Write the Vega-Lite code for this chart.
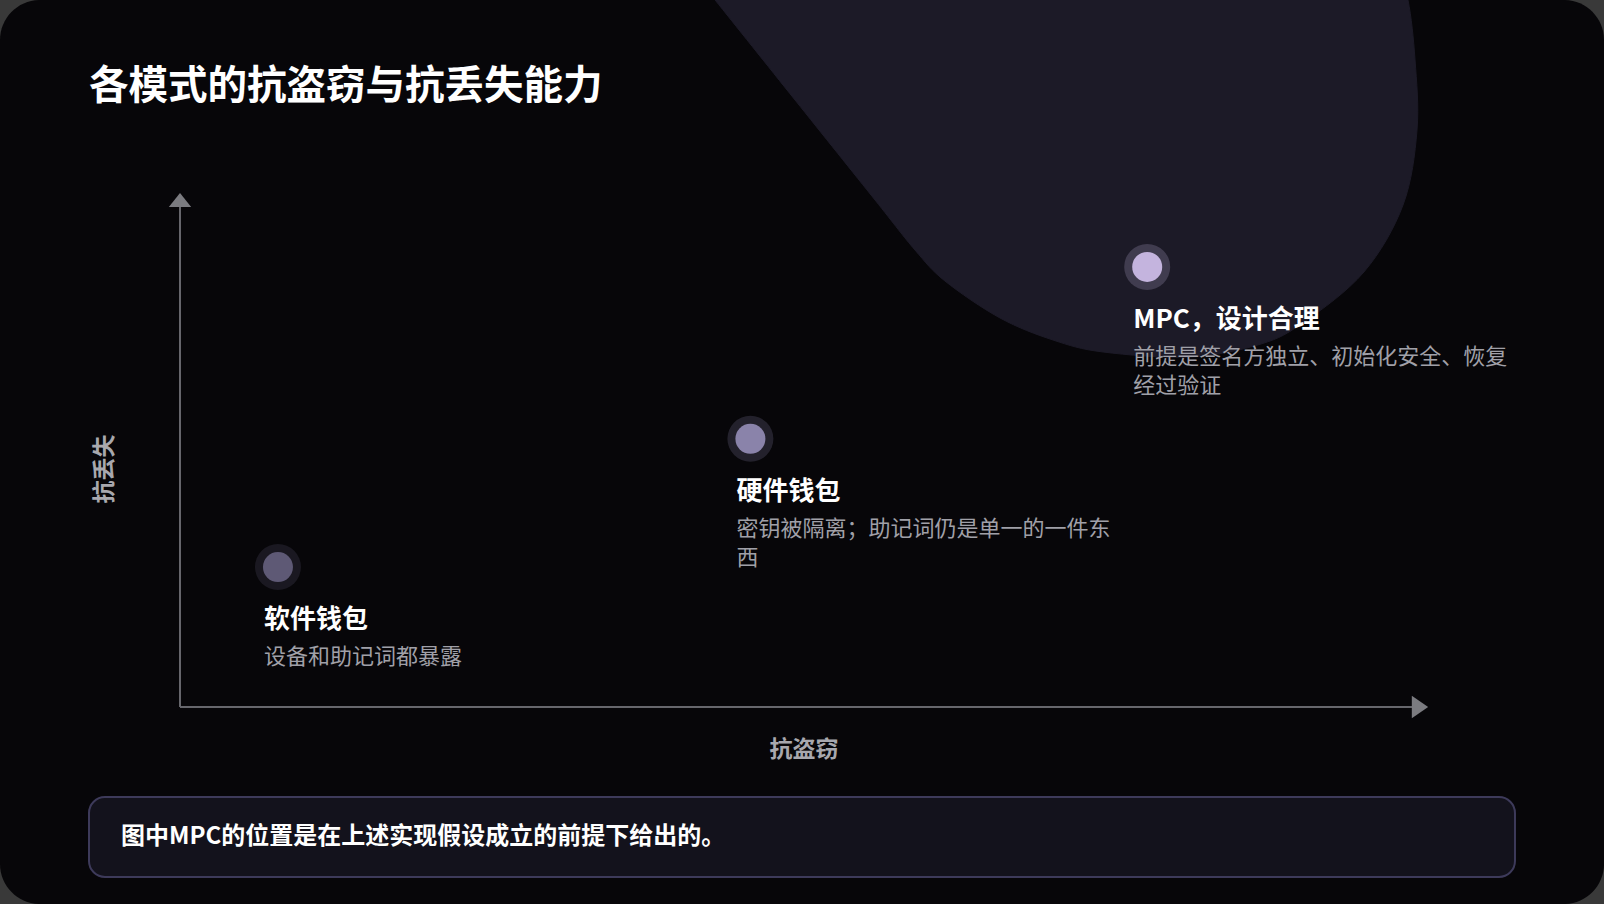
{
  "$schema": "https://vega.github.io/schema/vega-lite/v6.json",
  "width": 1240,
  "height": 507,
  "autosize": {"type": "none"},
  "padding": {"left": 180, "top": 200, "right": 184, "bottom": 197},
  "background": "#393939",
  "config": {
    "view": {"stroke": null},
    "font": "Noto Sans CJK SC",
    "text": {"font": "Noto Sans CJK SC"}
  },
  "datasets": {
    "modes": [
      {"模式": "软件钱包", "说明": "设备和助记词都暴露", "抗盗窃": 7.9, "抗丢失": 27.6},
      {"模式": "硬件钱包", "说明": "密钥被隔离；助记词仍是单一的一件东\n西", "抗盗窃": 46.0, "抗丢失": 52.9},
      {"模式": "MPC，设计合理", "说明": "前提是签名方独立、初始化安全、恢复\n经过验证", "抗盗窃": 78.0, "抗丢失": 86.8}
    ],
    "blob": [
      {"序": 1, "x": 40.56, "y": 147.34},
      {"序": 2, "x": 43.15, "y": 139.45},
      {"序": 3, "x": 49.6, "y": 119.72},
      {"序": 4, "x": 56.05, "y": 100.0},
      {"序": 5, "x": 59.27, "y": 90.14},
      {"序": 6, "x": 61.69, "y": 84.02},
      {"序": 7, "x": 66.13, "y": 76.73},
      {"序": 8, "x": 70.4, "y": 72.39},
      {"序": 9, "x": 74.44, "y": 70.02},
      {"序": 10, "x": 81.45, "y": 69.03},
      {"序": 11, "x": 87.18, "y": 71.6},
      {"序": 12, "x": 90.65, "y": 75.94},
      {"序": 13, "x": 95.48, "y": 85.8},
      {"序": 14, "x": 98.63, "y": 99.01},
      {"序": 15, "x": 99.76, "y": 113.81},
      {"序": 16, "x": 99.6, "y": 127.61},
      {"序": 17, "x": 99.03, "y": 139.45},
      {"序": 18, "x": 97.98, "y": 147.34}
    ],
    "arrows": [
      {"轴": "x", "x": 100, "y": 0},
      {"轴": "y", "x": 0, "y": 100}
    ],
    "axisTitles": [
      {"轴": "x", "标题": "抗盗窃", "x": 50.32, "y": -8.48},
      {"轴": "y", "标题": "抗丢失", "x": -6.05, "y": 46.94}
    ]
  },
  "layer": [
    {
      "data": {"values": [{}]},
      "mark": {"type": "rect", "cornerRadius": 40, "color": "#070609"},
      "encoding": {
        "x": {"datum": -14.516, "type": "quantitative", "scale": {"domain": [0, 100]}, "axis": null},
        "x2": {"datum": 114.839},
        "y": {"datum": 139.45, "type": "quantitative", "scale": {"domain": [0, 100]}, "axis": null},
        "y2": {"datum": -38.86}
      }
    },
    {
      "data": {"name": "blob"},
      "mark": {"type": "line", "interpolate": "cardinal-closed", "fill": "#1c1a27", "stroke": "#1c1a27", "strokeWidth": 1},
      "encoding": {
        "x": {"field": "x", "type": "quantitative", "scale": {"domain": [0, 100]}, "axis": null},
        "y": {"field": "y", "type": "quantitative", "scale": {"domain": [0, 100]}, "axis": null},
        "order": {"field": "序", "type": "quantitative"}
      }
    },
    {
      "data": {"values": [{}]},
      "mark": {"type": "rect", "cornerRadius": 16, "color": "#13121c", "stroke": "#3d3a5a", "strokeWidth": 2},
      "encoding": {
        "x": {"datum": -7.339, "type": "quantitative", "scale": {"domain": [0, 100]}, "axis": null},
        "x2": {"datum": 107.66},
        "y": {"datum": -17.75, "type": "quantitative", "scale": {"domain": [0, 100]}, "axis": null},
        "y2": {"datum": -33.53}
      }
    },
    {
      "data": {"values": [{"备注": "图中MPC的位置是在上述实现假设成立的前提下给出的。"}]},
      "mark": {"type": "text", "align": "left", "baseline": "middle", "fontSize": 24, "fontWeight": "bold", "color": "#ffffff"},
      "encoding": {
        "x": {"datum": -4.758, "type": "quantitative", "scale": {"domain": [0, 100]}, "axis": null},
        "y": {"datum": -25.64, "type": "quantitative", "scale": {"domain": [0, 100]}, "axis": null},
        "text": {"field": "备注"}
      }
    },
    {
      "data": {"values": [{"标题": "各模式的抗盗窃与抗丢失能力"}]},
      "mark": {"type": "text", "align": "left", "baseline": "middle", "fontSize": 39.5, "fontWeight": "bold", "color": "#ffffff"},
      "encoding": {
        "x": {"datum": -7.339, "type": "quantitative", "scale": {"domain": [0, 100]}, "axis": null},
        "y": {"datum": 122.3, "type": "quantitative", "scale": {"domain": [0, 100]}, "axis": null},
        "text": {"field": "标题"}
      }
    },
    {
      "data": {"values": [{}]},
      "mark": {"type": "rule", "color": "#66666c", "strokeWidth": 2},
      "encoding": {
        "x": {"datum": 0, "type": "quantitative", "scale": {"domain": [0, 100]}, "axis": null},
        "x2": {"datum": 100},
        "y": {"datum": 0, "type": "quantitative", "scale": {"domain": [0, 100]}, "axis": null}
      }
    },
    {
      "data": {"values": [{}]},
      "mark": {"type": "rule", "color": "#66666c", "strokeWidth": 2},
      "encoding": {
        "x": {"datum": 0, "type": "quantitative", "scale": {"domain": [0, 100]}, "axis": null},
        "y": {"datum": 0, "type": "quantitative", "scale": {"domain": [0, 100]}, "axis": null},
        "y2": {"datum": 100}
      }
    },
    {
      "data": {"name": "arrows"},
      "mark": {"type": "point", "filled": true, "size": 500, "opacity": 1, "color": "#7b7b80"},
      "encoding": {
        "x": {"field": "x", "type": "quantitative", "scale": {"domain": [0, 100]}, "axis": null},
        "y": {"field": "y", "type": "quantitative", "scale": {"domain": [0, 100]}, "axis": null},
        "shape": {
          "field": "轴",
          "type": "nominal",
          "scale": {"domain": ["x", "y"], "range": ["M0.73,0L-0.73,1L-0.73,-1Z", "M0,-0.62L1,0.62L-1,0.62Z"]},
          "legend": null
        }
      }
    },
    {
      "data": {"name": "axisTitles"},
      "transform": [{"filter": "datum['轴'] === 'x'"}],
      "mark": {"type": "text", "align": "center", "baseline": "middle", "fontSize": 23, "fontWeight": "bold", "color": "#a8a8ae"},
      "encoding": {
        "x": {"field": "x", "type": "quantitative", "scale": {"domain": [0, 100]}, "axis": null},
        "y": {"field": "y", "type": "quantitative", "scale": {"domain": [0, 100]}, "axis": null},
        "text": {"field": "标题"}
      }
    },
    {
      "data": {"name": "axisTitles"},
      "transform": [{"filter": "datum['轴'] === 'y'"}],
      "mark": {"type": "text", "align": "center", "baseline": "middle", "angle": 270, "fontSize": 23, "fontWeight": "bold", "color": "#a8a8ae"},
      "encoding": {
        "x": {"field": "x", "type": "quantitative", "scale": {"domain": [0, 100]}, "axis": null},
        "y": {"field": "y", "type": "quantitative", "scale": {"domain": [0, 100]}, "axis": null},
        "text": {"field": "标题"}
      }
    },
    {
      "data": {"name": "modes"},
      "mark": {"type": "point", "filled": true, "shape": "circle", "size": 2116, "opacity": 0.22},
      "encoding": {
        "x": {"field": "抗盗窃", "type": "quantitative", "scale": {"domain": [0, 100]}, "axis": null},
        "y": {"field": "抗丢失", "type": "quantitative", "scale": {"domain": [0, 100]}, "axis": null},
        "color": {
          "field": "模式",
          "type": "nominal",
          "scale": {"domain": ["软件钱包", "硬件钱包", "MPC，设计合理"], "range": ["#5e5975", "#8a83aa", "#c4b4de"]},
          "legend": null
        }
      }
    },
    {
      "data": {"name": "modes"},
      "mark": {"type": "point", "filled": true, "shape": "circle", "size": 900, "opacity": 1},
      "encoding": {
        "x": {"field": "抗盗窃", "type": "quantitative", "scale": {"domain": [0, 100]}, "axis": null},
        "y": {"field": "抗丢失", "type": "quantitative", "scale": {"domain": [0, 100]}, "axis": null},
        "color": {
          "field": "模式",
          "type": "nominal",
          "scale": {"domain": ["软件钱包", "硬件钱包", "MPC，设计合理"], "range": ["#5e5975", "#8a83aa", "#c4b4de"]},
          "legend": null
        }
      }
    },
    {
      "data": {"name": "modes"},
      "mark": {"type": "text", "align": "left", "baseline": "middle", "dx": -14, "dy": 53, "fontSize": 26, "fontWeight": "bold", "color": "#ffffff"},
      "encoding": {
        "x": {"field": "抗盗窃", "type": "quantitative", "scale": {"domain": [0, 100]}, "axis": null},
        "y": {"field": "抗丢失", "type": "quantitative", "scale": {"domain": [0, 100]}, "axis": null},
        "text": {"field": "模式"}
      }
    },
    {
      "data": {"name": "modes"},
      "mark": {"type": "text", "align": "left", "baseline": "top", "dx": -14, "dy": 80, "fontSize": 22, "lineBreak": "\n", "lineHeight": 29, "color": "#a0a0a8"},
      "encoding": {
        "x": {"field": "抗盗窃", "type": "quantitative", "scale": {"domain": [0, 100]}, "axis": null},
        "y": {"field": "抗丢失", "type": "quantitative", "scale": {"domain": [0, 100]}, "axis": null},
        "text": {"field": "说明"}
      }
    }
  ]
}
